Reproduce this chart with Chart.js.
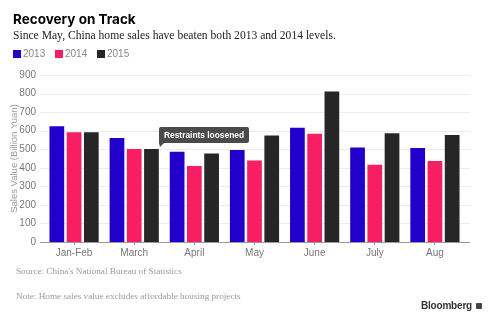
<!DOCTYPE html>
<html>
<head>
<meta charset="utf-8">
<script src="https://cdn.jsdelivr.net/npm/chart.js@4.4.1/dist/chart.umd.min.js"></script>
<style>
  html,body{margin:0;padding:0;background:#fff;}
  #wrap{position:relative;width:488px;height:321px;overflow:hidden;}
  #c{position:absolute;left:0;top:0;}
  .t{position:absolute;white-space:nowrap;}
  #title{left:13px;top:11px;font:bold 13.5px "Inter","Liberation Sans",sans-serif;color:#000;}
  #sub{left:13px;top:29px;font:11.6px "Liberation Serif","DejaVu Serif",serif;color:#222;}
  #legend{position:absolute;left:13px;top:48px;font:10px "Liberation Sans",sans-serif;color:#888;}
  #legend span.it{position:absolute;top:0;white-space:nowrap;}
  #legend i{display:inline-block;width:8px;height:8px;vertical-align:-1px;margin-right:2px;}
  #src{left:16px;top:266px;font:9.2px "Liberation Serif","DejaVu Serif",serif;color:#999;}
  #note{left:16px;top:291px;font:9.2px "Liberation Serif","DejaVu Serif",serif;color:#999;}
  #logo{left:421px;top:300px;font:bold 10px "Liberation Sans",sans-serif;color:#333;letter-spacing:-0.2px;}
  #logo b{display:inline-block;width:6px;height:6px;background:#444;margin-left:4px;vertical-align:0px;border-radius:1px;}
</style>
</head>
<body>
<div id="wrap">
  <canvas id="c" width="488" height="321"></canvas>
  <div class="t" id="title">Recovery on Track</div>
  <div class="t" id="sub">Since May, China home sales have beaten both 2013 and 2014 levels.</div>
  <div id="legend"></div>
  <div class="t" id="src">Source: China's National Bureau of Statistics</div>
  <div class="t" id="note">Note: Home sales value excludes affordable housing projects</div>
  <div class="t" id="logo">Bloomberg<b></b></div>
</div>
<script>
const categories = ['Jan-Feb','March','April','May','June','July','Aug'];
const seriesNames = ['2013','2014','2015'];
const sales2013 = [629, 566, 492, 501, 621, 515, 512];
const sales2014 = [597, 506, 415, 444, 589, 422, 442];
const sales2015 = [597, 506, 483, 580, 817, 591, 582];
const seriesColors = ['#2200CC','#F71E63','#262626'];
const yTicks = [0,100,200,300,400,500,600,700,800,900];
const annotationText = 'Restraints loosened';
const annotationCategory = 'April';
const annotationValue = 620;

// legend
const legend = document.getElementById('legend');
const legendX = [0, 42, 84];
seriesNames.forEach((n,i)=>{
  const s = document.createElement('span');
  s.className='it';
  s.style.left = legendX[i]+'px';
  s.innerHTML = '<i style="background:'+seriesColors[i]+'"></i>'+n;
  legend.appendChild(s);
});

const gridPlugin = {
  id:'gridExt',
  beforeDatasetsDraw(chart){
    const ctx = chart.ctx, y = chart.scales.y, a = chart.chartArea;
    ctx.save();
    yTicks.forEach(v=>{
      const py = Math.round(y.getPixelForValue(v))+0.5;
      ctx.strokeStyle = v===0 ? '#9a9a9a' : '#ececec';
      ctx.lineWidth = 1;
      ctx.beginPath(); ctx.moveTo(a.left-4, py); ctx.lineTo(a.right+5, py); ctx.stroke();
    });
    ctx.restore();
  },
  afterDatasetsDraw(chart){
    const ctx = chart.ctx, x = chart.scales.x, y = chart.scales.y;
    const cx = x.getPixelForValue(categories.indexOf(annotationCategory));
    const top = Math.round(y.getPixelForValue(annotationValue));
    const left = Math.round(cx - 35);
    ctx.save();
    ctx.font = 'bold 8.4px "Liberation Sans", sans-serif';
    const tw = ctx.measureText(annotationText).width;
    const w = Math.round(tw + 10), h = 16;
    ctx.fillStyle = '#4a4a4a';
    ctx.beginPath();
    ctx.moveTo(left+2, top);
    ctx.lineTo(left+w-2, top); ctx.quadraticCurveTo(left+w, top, left+w, top+2);
    ctx.lineTo(left+w, top+h-2); ctx.quadraticCurveTo(left+w, top+h, left+w-2, top+h);
    ctx.lineTo(left+5, top+h); ctx.lineTo(left+1, top+h+4); ctx.lineTo(left, top+h);
    ctx.lineTo(left, top+2); ctx.quadraticCurveTo(left, top, left+2, top);
    ctx.fill();
    ctx.fillStyle = '#fff';
    ctx.textBaseline = 'middle';
    ctx.fillText(annotationText, left+5, top+h/2+0.5);
    ctx.restore();
  }
};

new Chart(document.getElementById('c'), {
  type:'bar',
  data:{
    labels:categories,
    datasets:[sales2013, sales2014, sales2015].map((d,i)=>({
      label:seriesNames[i], data:d, backgroundColor:seriesColors[i],
      borderColor:'rgba(255,255,255,0.35)', borderWidth:1,
      barPercentage:0.97, categoryPercentage:0.86
    }))
  },
  options:{
    responsive:false, animation:false,
    layout:{padding:{top:75, bottom:61, left:0, right:23}},
    plugins:{legend:{display:false}, tooltip:{enabled:false}},
    scales:{
      x:{
        grid:{drawOnChartArea:false, drawTicks:true, tickLength:3, tickColor:'#9a9a9a', offset:false},
        border:{display:false},
        ticks:{color:'#777', font:{family:'"Liberation Sans", sans-serif', size:10}, padding:2, maxRotation:0},
        afterFit(s){ s.height = 18; }
      },
      y:{
        min:0, max:900,
        afterBuildTicks(s){ s.ticks = yTicks.map(v=>({value:v})); },
        grid:{display:false, drawTicks:false},
        border:{display:false},
        ticks:{color:'#777', font:{family:'"Liberation Sans", sans-serif', size:10}, padding:8},
        title:{display:true, text:'Sales Value (Billion Yuan)', color:'#999',
               font:{family:'"Liberation Sans", sans-serif', size:9.5}, padding:{top:9,bottom:0}},
        afterFit(s){ s.width = 44; }
      }
    }
  },
  plugins:[gridPlugin]
});
</script>
</body>
</html>
